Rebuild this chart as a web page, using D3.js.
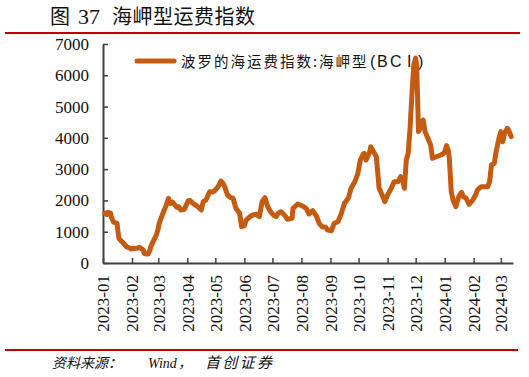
<!DOCTYPE html>
<html><head><meta charset="utf-8">
<script src="https://cdn.jsdelivr.net/npm/d3@7"></script>
<style>
html,body{margin:0;padding:0;background:#fff;}
svg{display:block;}
</style></head>
<body>
<svg id="chart" width="529" height="377"></svg>
<script>
const titleParts = ["图", "37", "海岬型运费指数"];
const seriesNameParts = ["波罗的海运费指数:海岬型", "(BCI)"];
const sourceParts = ["资料来源：", "Wind", "，", "首创证券"];
const yTicks = [0,1000,2000,3000,4000,5000,6000,7000];
const xTickLabels = ["2023-01","2023-02","2023-03","2023-04","2023-05","2023-06","2023-07","2023-08","2023-09","2023-10","2023-11","2023-12","2024-01","2024-02","2024-03"];
const dates = [
"2023-01-03","2023-01-05","2023-01-06","2023-01-09","2023-01-10","2023-01-12","2023-01-13","2023-01-16","2023-01-17","2023-01-18",
"2023-01-20","2023-01-24","2023-01-26","2023-01-30","2023-01-31","2023-02-02","2023-02-06","2023-02-09","2023-02-10","2023-02-13",
"2023-02-14","2023-02-16","2023-02-18","2023-02-20","2023-02-21","2023-02-23","2023-02-27","2023-03-01","2023-03-02","2023-03-06",
"2023-03-09","2023-03-12","2023-03-14","2023-03-16","2023-03-18","2023-03-21","2023-03-23","2023-03-25","2023-03-29","2023-04-02",
"2023-04-04","2023-04-07","2023-04-10","2023-04-12","2023-04-16","2023-04-18","2023-04-21","2023-04-25","2023-04-28","2023-04-30",
"2023-05-04","2023-05-07","2023-05-09","2023-05-11","2023-05-14","2023-05-17","2023-05-20","2023-05-23","2023-05-27","2023-05-29",
"2023-06-01","2023-06-03","2023-06-07","2023-06-10","2023-06-14","2023-06-17","2023-06-20","2023-06-23","2023-06-26","2023-06-29",
"2023-07-02","2023-07-05","2023-07-07","2023-07-10","2023-07-14","2023-07-17","2023-07-20","2023-07-22","2023-07-23","2023-07-28",
"2023-08-02","2023-08-06","2023-08-09","2023-08-13","2023-08-17","2023-08-20","2023-08-23","2023-08-27","2023-08-29","2023-09-02",
"2023-09-05","2023-09-09","2023-09-12","2023-09-16","2023-09-20","2023-09-23","2023-09-25","2023-09-27","2023-09-30","2023-10-03",
"2023-10-06","2023-10-07","2023-10-09","2023-10-13","2023-10-14","2023-10-17","2023-10-20","2023-10-23","2023-10-27","2023-10-29",
"2023-11-01","2023-11-05","2023-11-08","2023-11-12","2023-11-15","2023-11-17","2023-11-19","2023-11-21","2023-11-23","2023-11-25",
"2023-11-27","2023-11-29","2023-12-01","2023-12-02","2023-12-03","2023-12-04","2023-12-07","2023-12-09","2023-12-11","2023-12-14",
"2023-12-17","2023-12-19","2023-12-23","2023-12-28","2023-12-31","2024-01-01","2024-01-03","2024-01-05","2024-01-06","2024-01-08",
"2024-01-10","2024-01-13","2024-01-16","2024-01-19","2024-01-21","2024-01-24","2024-01-27","2024-01-31","2024-02-03","2024-02-05",
"2024-02-09","2024-02-12","2024-02-16","2024-02-18","2024-02-20","2024-02-23","2024-02-25","2024-02-28","2024-03-01","2024-03-03",
"2024-03-05","2024-03-08","2024-03-10","2024-03-12"];
const values = [
1590,1550,1620,1600,1460,1320,1300,1270,1000,790,
720,600,520,470,447,460,470,502,480,415,
310,290,288,400,520,650,895,1100,1270,1590,
1800,2067,1908,1950,1885,1780,1800,1694,1720,1990,
2000,1908,1850,1800,1694,1960,2013,2280,2270,2300,
2440,2620,2550,2440,2173,2100,2067,1748,1588,1160,
1192,1374,1480,1534,1556,1480,1960,2087,1800,1640,
1534,1480,1588,1640,1534,1396,1420,1428,1748,1885,
1822,1748,1566,1672,1502,1268,1160,1140,1055,1033,
1268,1320,1534,1908,2067,2387,2493,2600,2830,3300,
3480,3505,3292,3557,3717,3557,3397,2387,2120,1960,
2173,2387,2600,2600,2760,2653,2387,3292,3505,4305,
5370,6330,6550,6330,5370,4200,4357,4570,4200,3985,
3771,3346,3397,3452,3505,3557,3750,3580,3346,2280,
2013,1800,2120,2260,2120,2067,1876,2013,2173,2333,
2440,2440,2440,2600,3132,3186,3557,3985,4200,3877,
4145,4305,4200,4036];

(function(){
const parse = d3.timeParse("%Y-%m-%d");
const parseM = d3.timeParse("%Y-%m");
const data = dates.map((d,i)=>({date:parse(d), value:values[i]}));

const svg = d3.select("#chart");
const serif = "'Liberation Serif','Times New Roman',serif";
const cjk = "'Noto Sans CJK SC','Noto Sans',sans-serif";
const lineColor = "#c55a11";
const axisColor = "#404040";

const mLeft = 103, mRight = 513, mTop = 44, mBottom = 263;
const x = d3.scaleTime().domain([parse("2023-01-01"), parse("2024-03-14")]).range([mLeft, mRight]);
const y = d3.scaleLinear().domain([0, 7000]).range([mBottom, mTop]);

// title pieces
const tPos = [{x:50, f:cjk, s:20, len:null}, {x:78, f:serif, s:22, len:null}, {x:112, f:cjk, s:20, len:143}];
titleParts.forEach((t,i)=>{
  const el = svg.append("text").attr("x", tPos[i].x).attr("y", 24)
    .attr("font-family", tPos[i].f).attr("font-size", tPos[i].s).attr("fill", "#111").text(t);
  if (tPos[i].len) el.attr("textLength", tPos[i].len).attr("lengthAdjust", "spacing");
});
svg.append("line").attr("x1", 5).attr("x2", 520).attr("y1", 33).attr("y2", 33)
  .attr("stroke", "#c00000").attr("stroke-width", 2);
svg.append("line").attr("x1", 5).attr("x2", 518).attr("y1", 350).attr("y2", 350)
  .attr("stroke", "#c00000").attr("stroke-width", 2);

// source pieces
const sPos = [{x:52, f:cjk, s:14, len:null}, {x:148, f:serif, s:14, len:null},
              {x:178, f:cjk, s:14, len:null}, {x:205, f:cjk, s:15, len:67}];
sourceParts.forEach((t,i)=>{
  const el = svg.append("text").attr("x", sPos[i].x).attr("y", 368)
    .attr("font-family", sPos[i].f).attr("font-size", sPos[i].s)
    .attr("font-style", "italic").attr("fill", "#111").text(t);
  if (sPos[i].len) el.attr("textLength", sPos[i].len).attr("lengthAdjust", "spacing");
});

const yAxis = d3.axisLeft(y).tickValues(yTicks).tickFormat(d3.format("d"))
  .tickSizeInner(-5).tickSizeOuter(0).tickPadding(14);
const gy = svg.append("g").attr("transform", `translate(${mLeft},0)`).call(yAxis);
gy.select(".domain").attr("stroke", axisColor).attr("stroke-width", 2);
gy.selectAll(".tick line").attr("stroke", axisColor).attr("stroke-width", 1.5);
gy.selectAll(".tick text").attr("font-family", serif).attr("font-size", 17).attr("fill", "#111");

const xTickDates = xTickLabels.map(parseM);
const xAxis = d3.axisBottom(x).tickValues(xTickDates).tickFormat(d3.timeFormat("%Y-%m"))
  .tickSizeInner(-5).tickSizeOuter(0);
const gx = svg.append("g").attr("transform", `translate(0,${mBottom})`).call(xAxis);
gx.select(".domain").attr("stroke", axisColor).attr("stroke-width", 2);
gx.selectAll(".tick line").attr("stroke", axisColor).attr("stroke-width", 1.5);
gx.selectAll(".tick text").attr("font-family", serif).attr("font-size", 17).attr("fill", "#111")
  .attr("transform", "rotate(-90)").attr("text-anchor", "end")
  .attr("x", -12).attr("y", 0).attr("dy", "0.35em");

// legend
svg.append("line").attr("x1", 137).attr("x2", 174).attr("y1", 61).attr("y2", 61)
  .attr("stroke", lineColor).attr("stroke-width", 5).attr("stroke-linecap", "round");
svg.append("text").attr("x", 181).attr("y", 67)
  .attr("font-family", cjk).attr("font-size", 14.5).attr("fill", "#111")
  .attr("letter-spacing", 2)
  .text(seriesNameParts[0]);
svg.append("text").attr("x", "370 377 390 407 418").attr("y", 67)
  .attr("font-family", "'Liberation Sans',Arial,sans-serif").attr("font-size", 16).attr("fill", "#111")
  .text(seriesNameParts[1]);

const line = d3.line().x(d=>x(d.date)).y(d=>y(d.value));
svg.append("path").datum(data).attr("d", line)
  .attr("fill", "none").attr("stroke", lineColor).attr("stroke-width", 5)
  .attr("stroke-linejoin", "round").attr("stroke-linecap", "round");
})();
</script>
</body></html>
